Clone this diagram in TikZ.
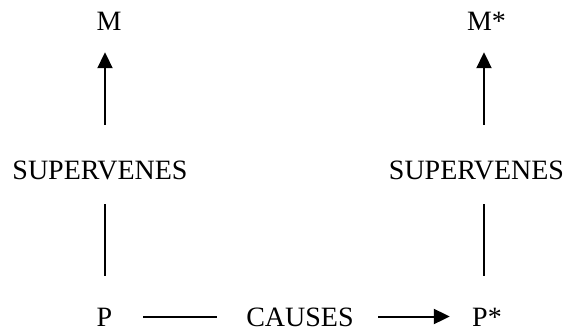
\documentclass[tikz,border=0pt]{standalone}
\usepackage{fontspec}
\setmainfont{Liberation Serif}
\usetikzlibrary{arrows.meta}
\begin{document}
\begin{tikzpicture}[x=1pt,y=-1pt,
  lbl/.style={inner sep=0pt,text height=18.5pt,text depth=0pt,font=\fontsize{28}{30}\selectfont},
  conn/.style={line width=2pt,line cap=butt},
  arr/.style={conn,-{Triangle[length=16pt,width=15pt]}}]
\useasboundingbox (0,0) rectangle (569,332);
\node[lbl] (M)  at (109,21) {M};
\node[lbl] (Ms) at (486.5,21) {M*};
\node[lbl] (S1) at (100,170) {SUPERVENES};
\node[lbl] (S2) at (476.5,170) {SUPERVENES};
\node[lbl] (P)  at (104.5,317.5) {P};
\node[lbl] (C)  at (300,317.5) {CAUSES};
\node[lbl] (Ps) at (487,317.5) {P*};
\coordinate (colL) at (105,0);
\coordinate (colR) at (484,0);
\coordinate (row) at (0,316.5);
% left column
\draw[arr,shorten <=35.75pt,shorten >=21.75pt] (S1.north -| colL) -- (M.south -| colL);
\draw[conn,shorten <=24.75pt,shorten >=32.25pt] (S1.south -| colL) -- (P.north -| colL);
% right column
\draw[arr,shorten <=35.75pt,shorten >=21.75pt] (S2.north -| colR) -- (Ms.south -| colR);
\draw[conn,shorten <=24.75pt,shorten >=32.25pt] (S2.south -| colR) -- (Ps.north -| colR);
% bottom row
\draw[conn,shorten <=30.7pt,shorten >=29.3pt] (P.east |- row) -- (C.west |- row);
\draw[arr,shorten <=24.3pt,shorten >=22.2pt] (C.east |- row) -- (Ps.west |- row);
\end{tikzpicture}
\end{document}
